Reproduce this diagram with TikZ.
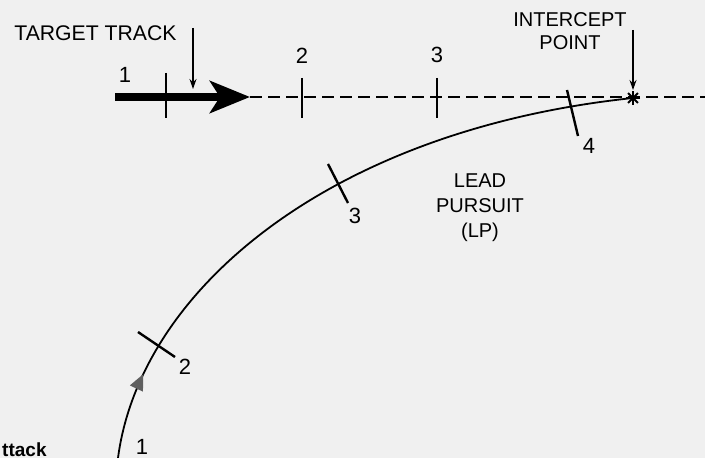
\documentclass[tikz,border=0pt]{standalone}
\usepackage{fontspec}
\setmainfont{Liberation Sans}
\usepackage{tikz}
\usetikzlibrary{arrows.meta}
\usetikzlibrary{decorations.markings}
\usepackage{xcolor}
\definecolor{paper}{RGB}{240,240,240}
\definecolor{headgray}{RGB}{95,95,95}

\begin{document}
\begin{tikzpicture}[x=0.5pt, y=-0.5pt,
    lbl/.style={font=\fontsize{10}{11.5}\selectfont, align=center, inner sep=0pt},
    num/.style={font=\fontsize{11}{12}\selectfont, inner sep=0pt},
    tickmark/.style={line width=1.2pt},
    ptr/.style={line width=0.6pt, -{Stealth[length=5pt, width=3.5pt]}}]
    \fill[paper] (0,0) rectangle (705,458);
    \useasboundingbox (0,0) rectangle (705,458);

    % Target track
    \coordinate (T0) at (115,97);
    \coordinate (Ttip) at (250,97);
    \coordinate (Tend) at (705,97);
    \node[inner sep=0pt] (IP) at (633,98) {};
    \draw[line width=4pt, -{Stealth[length=20pt, width=16pt, inset=5pt]}] (T0) -- (Ttip);
    \draw[line width=1pt, dash pattern=on 6pt off 3pt] (Ttip) -- (Tend);
    \draw[tickmark] (166,73) -- (166,118);
    \draw[tickmark] (302,78) -- (302,118);
    \draw[tickmark] (437,78) -- (437,118);
    \node[num] (t1) at (125,75) {1};
    \node[num] (t2) at (302,56) {2};
    \node[num] (t3) at (437,55) {3};

    % Labels with pointers
    \node[lbl, font=\fontsize{10.6}{12}\selectfont, anchor=west] (tt) at (14,33) {TARGET TRACK};
    \coordinate (ttfrom) at (193,28);
    \coordinate (ttto) at (193,89);
    \draw[ptr] (ttfrom) -- (ttto);
    \node[lbl] (ipl) at (570,31) {INTERCEPT\\POINT};
    \coordinate (ipfrom) at (633,30);
    \draw[ptr] (ipfrom) -- ([yshift=4pt]IP.center);

    % Intercept star
    \foreach \a in {0,45,90,135}
        \draw[line width=0.9pt] (IP) +(\a:7) -- +(\a+180:7);

    % Lead pursuit path
    \coordinate (A0) at (118,458);
    \draw[line width=0.9pt, postaction={decorate},
        decoration={markings, mark=at position 44pt with {\arrow[headgray]{Triangle[length=8pt, width=7pt]}}}]
        (A0) .. controls (140,290) and (330,130) .. (IP.center);
    \draw[tickmark] (138,332) -- (175,357);
    \draw[tickmark] (328,164) -- (348,203);
    \draw[tickmark] (567,90) -- (578,136);
    \node[num] (c1) at (142,447) {1};
    \node[num] (c2) at (185,367) {2};
    \node[num] (c3) at (355,216) {3};
    \node[num] (c4) at (589,146) {4};
    \node[lbl, font=\fontsize{10}{12.5}\selectfont] (lp) at (480,208) {LEAD\\PURSUIT\\(LP)};
    \node[font=\bfseries\fontsize{9.5}{10}\selectfont, anchor=east, inner sep=0pt] (atk) at (47,450) {ttack};
\end{tikzpicture}
\end{document}
